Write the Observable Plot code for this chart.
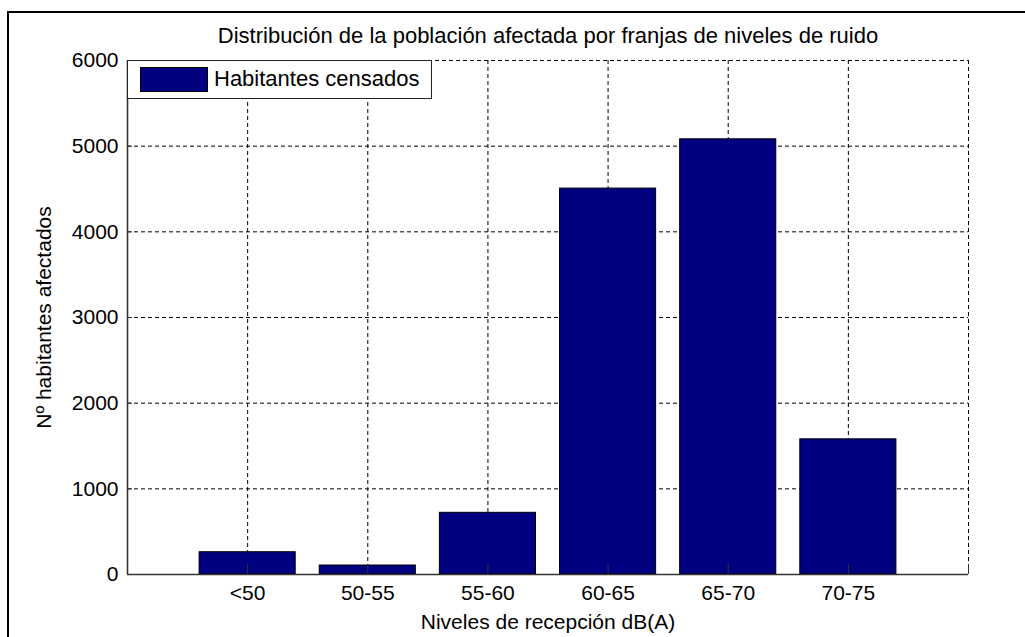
<!DOCTYPE html>
<html>
<head>
<meta charset="utf-8">
<script src="https://cdn.jsdelivr.net/npm/d3@7"></script>
<script src="https://cdn.jsdelivr.net/npm/@observablehq/plot@0.6"></script>
<style>
  html, body { margin: 0; padding: 0; background: #fff; }
  #wrap { position: relative; width: 1025px; height: 637px; overflow: hidden; background: #fff; }
  #frameL { position: absolute; left: 7px; top: 11px; width: 2px; height: 640px; background: #000; }
  #frameT { position: absolute; left: 7px; top: 11px; width: 1100px; height: 2px; background: #000; }
  #legend { position: absolute; left: 127px; top: 60px; width: 303px; height: 37px; border: 1.5px solid #222; background: #fff;
            font-family: "Liberation Sans", Arial, sans-serif; font-size: 22px; color: #000; }
  #legend .sw { position: absolute; left: 12px; top: 6px; width: 66px; height: 23px; background: #000080; border: 1px solid #000; }
  #legend .lb { position: absolute; left: 86px; top: 5px; line-height: 26px; white-space: nowrap; }
</style>
</head>
<body>
<div id="wrap"></div>
<script>
const categories = ["<50", "50-55", "55-60", "60-65", "65-70", "70-75"];
const habitantes = [260, 105, 720, 4505, 5080, 1578];
const yTicks = [0, 1000, 2000, 3000, 4000, 5000, 6000];
const titleText = "Distribución de la población afectada por franjas de niveles de ruido";
const xLabel = "Niveles de recepción dB(A)";
const yLabel = "Nº habitantes afectados";
const legendLabel = "Habitantes censados";

const data = categories.map((c, i) => ({cat: c, pos: i + 1, value: habitantes[i]}));
const catPos = data.map(d => d.pos);
const gridPos = d3.range(1, categories.length + 2);
const xMax = categories.length + 1;
const yMax = yTicks[yTicks.length - 1];

const font = "'Liberation Sans', Arial, sans-serif";

const chart = Plot.plot({
  width: 1025,
  height: 637,
  marginLeft: 127,
  marginRight: 57,
  marginTop: 60,
  marginBottom: 63,
  style: {fontFamily: font, fontSize: "21px", color: "#000", background: "transparent", overflow: "visible"},
  x: {domain: [0, xMax]},
  y: {domain: [0, yMax]},
  marks: [
    Plot.gridY(yTicks, {stroke: "#000", strokeOpacity: 1, strokeDasharray: "4,3", strokeWidth: 1}),
    Plot.gridX(gridPos, {stroke: "#000", strokeOpacity: 1, strokeDasharray: "4,3", strokeWidth: 1}),
    Plot.rectY(data, {x1: d => d.pos - 0.4, x2: d => d.pos + 0.4, y: "value", fill: "#000080", stroke: "#000", strokeWidth: 1}),
    Plot.ruleY(yTicks, {y: d => d, x1: 0, x2: xMax * 5 / 841, stroke: "#333", strokeWidth: 1}),
    Plot.ruleX(gridPos, {x: d => d, y1: 0, y2: yMax * 10 / 514, stroke: "#333", strokeWidth: 1}),
    Plot.ruleX([0], {stroke: "#333", strokeWidth: 1.6}),
    Plot.ruleY([0], {stroke: "#333", strokeWidth: 1.6}),
    Plot.axisY(yTicks, {tickSize: 0, tickPadding: 9, fontSize: 21, tickFormat: d => String(d), label: yLabel, labelAnchor: "center", labelArrow: "none", labelOffset: 91}),
    Plot.axisX(catPos, {tickSize: 0, tickPadding: 11, fontSize: 21, tickFormat: d => categories[d - 1], label: xLabel, labelAnchor: "center", labelArrow: "none", labelOffset: 54}),
    Plot.text([titleText], {frameAnchor: "top", lineAnchor: "bottom", dy: -18, fontSize: 22, fill: "#000"})
  ]
});

const wrap = document.getElementById("wrap");
chart.style.position = "absolute";
chart.style.left = "0px";
chart.style.top = "0px";
wrap.appendChild(chart);

const fl = document.createElement("div"); fl.id = "frameL"; wrap.appendChild(fl);
const ft = document.createElement("div"); ft.id = "frameT"; wrap.appendChild(ft);

const leg = document.createElement("div");
leg.id = "legend";
const sw = document.createElement("div"); sw.className = "sw";
const lb = document.createElement("div"); lb.className = "lb"; lb.textContent = legendLabel;
leg.appendChild(sw); leg.appendChild(lb);
wrap.appendChild(leg);
</script>
</body>
</html>
